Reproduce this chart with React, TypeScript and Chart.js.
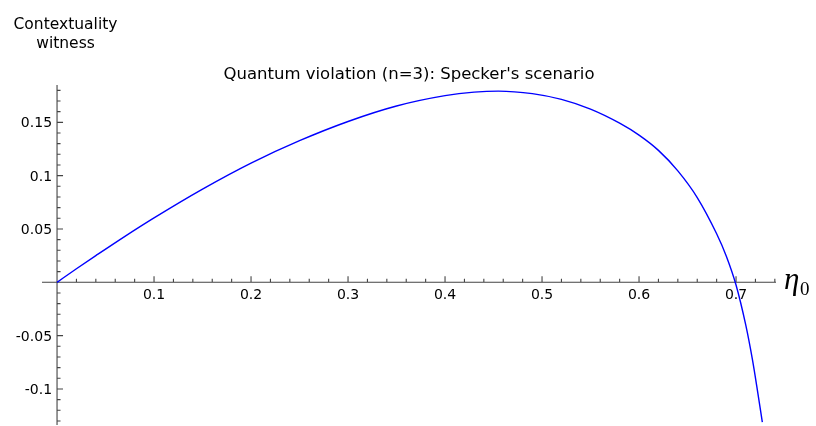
import React, { useEffect, useRef } from "react";
import { Chart, registerables } from "chart.js";

Chart.register(...registerables);

// ---- data ----
const etaValues = [
  0, 0.02, 0.04, 0.07, 0.1, 0.15, 0.2, 0.25, 0.3, 0.35, 0.4, 0.43, 0.455, 0.49,
  0.52, 0.55, 0.58, 0.6, 0.62, 0.64, 0.66, 0.68, 0.69, 0.7, 0.71, 0.717, 0.722,
  0.7271,
];
const witnessValues = [
  0, 0.0127, 0.025, 0.0431, 0.0604, 0.0874, 0.1118, 0.1328, 0.1508, 0.1653,
  0.175, 0.1783, 0.1793, 0.1769, 0.1715, 0.1624, 0.1492, 0.138, 0.1237,
  0.1045, 0.0795, 0.0455, 0.0245, -0.0025, -0.04, -0.073, -0.101, -0.1312,
];
const xTickValues = [0.1, 0.2, 0.3, 0.4, 0.5, 0.6, 0.7];
const xTickLabels = ["0.1", "0.2", "0.3", "0.4", "0.5", "0.6", "0.7"];
const yTickValues = [-0.1, -0.05, 0.05, 0.1, 0.15];
const yTickLabels = ["-0.1", "-0.05", "0.05", "0.1", "0.15"];
const chartTitle = "Quantum violation (n=3): Specker's scenario";
const yAxisTitle = ["Contextuality", "witness"];
const xAxisSymbol = "\u03B7";
const xAxisSubscript = "0";

const X_MIN = -0.0155;
const X_MAX = 0.7412;
const Y_MIN = -0.1338;
const Y_MAX = 0.185;

const axesPlugin = {
  id: "sageAxes",
  beforeDatasetsDraw(chart: any) {
    const { ctx, chartArea, scales } = chart;
    const xs = scales.x;
    const ys = scales.y;
    const ax = xs.getPixelForValue(0);
    const ay = ys.getPixelForValue(0);
    ctx.save();
    ctx.strokeStyle = "#444";
    ctx.lineWidth = 1.1;
    ctx.beginPath();
    ctx.moveTo(chartArea.left, ay);
    ctx.lineTo(chartArea.right, ay);
    ctx.moveTo(ax, chartArea.top);
    ctx.lineTo(ax, chartArea.bottom);
    // x ticks (minor every 0.02, major every 0.1)
    for (let i = 1; i * 0.02 <= X_MAX + 1e-9; i++) {
      const v = i * 0.02;
      const major = i % 5 === 0;
      const px = xs.getPixelForValue(v);
      ctx.moveTo(px, ay);
      ctx.lineTo(px, ay - (major ? 6 : 3.5));
    }
    // y ticks (minor every 0.01, major every 0.05)
    for (let i = Math.ceil(Y_MIN / 0.01); i * 0.01 <= Y_MAX + 1e-9; i++) {
      if (i === 0) continue;
      const v = i * 0.01;
      const major = i % 5 === 0;
      const py = ys.getPixelForValue(v);
      ctx.moveTo(ax, py);
      ctx.lineTo(ax + (major ? 6 : 3.5), py);
    }
    ctx.stroke();
    ctx.restore();
  },
  afterDraw(chart: any) {
    const { ctx, scales } = chart;
    const xs = scales.x;
    const ys = scales.y;
    const ax = xs.getPixelForValue(0);
    const ay = ys.getPixelForValue(0);
    ctx.save();
    ctx.fillStyle = "#000";
    ctx.font = "14px 'DejaVu Sans'";
    ctx.textAlign = "center";
    ctx.textBaseline = "alphabetic";
    xTickValues.forEach((v, i) => {
      ctx.fillText(xTickLabels[i], xs.getPixelForValue(v), ay + 17);
    });
    ctx.textAlign = "right";
    yTickValues.forEach((v, i) => {
      ctx.fillText(yTickLabels[i], ax - 5, ys.getPixelForValue(v) + 5);
    });
    // title
    ctx.textAlign = "center";
    ctx.font = "16.5px 'DejaVu Sans'";
    ctx.fillText(chartTitle, 409, 79);
    // y axis title
    ctx.font = "15.5px 'DejaVu Sans'";
    ctx.fillText(yAxisTitle[0], 65.5, 29);
    ctx.fillText(yAxisTitle[1], 65.5, 48);
    // x axis symbol
    ctx.textAlign = "left";
    ctx.font = "italic 31px 'Liberation Serif'";
    ctx.fillText(xAxisSymbol, 784, 289);
    ctx.font = "19px 'Liberation Serif'";
    ctx.fillText(xAxisSubscript, 800, 295);
    ctx.restore();
  },
};

export default function App() {
  const canvasRef = useRef<HTMLCanvasElement | null>(null);

  useEffect(() => {
    const canvas = canvasRef.current;
    if (!canvas) return;
    const points = etaValues.map((x, i) => ({ x, y: witnessValues[i] }));
    const chart = new Chart(canvas, {
      type: "line",
      data: {
        datasets: [
          {
            data: points,
            borderColor: "#0000ff",
            borderWidth: 1.4,
            pointRadius: 0,
            fill: false,
            cubicInterpolationMode: "monotone",
            clip: false as any,
          },
        ],
      },
      options: {
        responsive: false,
        animation: false,
        devicePixelRatio: 1,
        layout: { padding: { left: 42, right: 40, top: 85, bottom: 1 } },
        plugins: {
          legend: { display: false },
          title: { display: false },
          tooltip: { enabled: false },
        },
        scales: {
          x: { type: "linear", min: X_MIN, max: X_MAX, display: false },
          y: { type: "linear", min: Y_MIN, max: Y_MAX, display: false },
        },
      },
      plugins: [axesPlugin],
    });
    return () => chart.destroy();
  }, []);

  return (
    <div
      style={{
        position: "absolute",
        left: 0,
        top: 0,
        width: 816,
        height: 426,
        background: "#fff",
      }}
    >
      <canvas ref={canvasRef} width={816} height={426} />
    </div>
  );
}
